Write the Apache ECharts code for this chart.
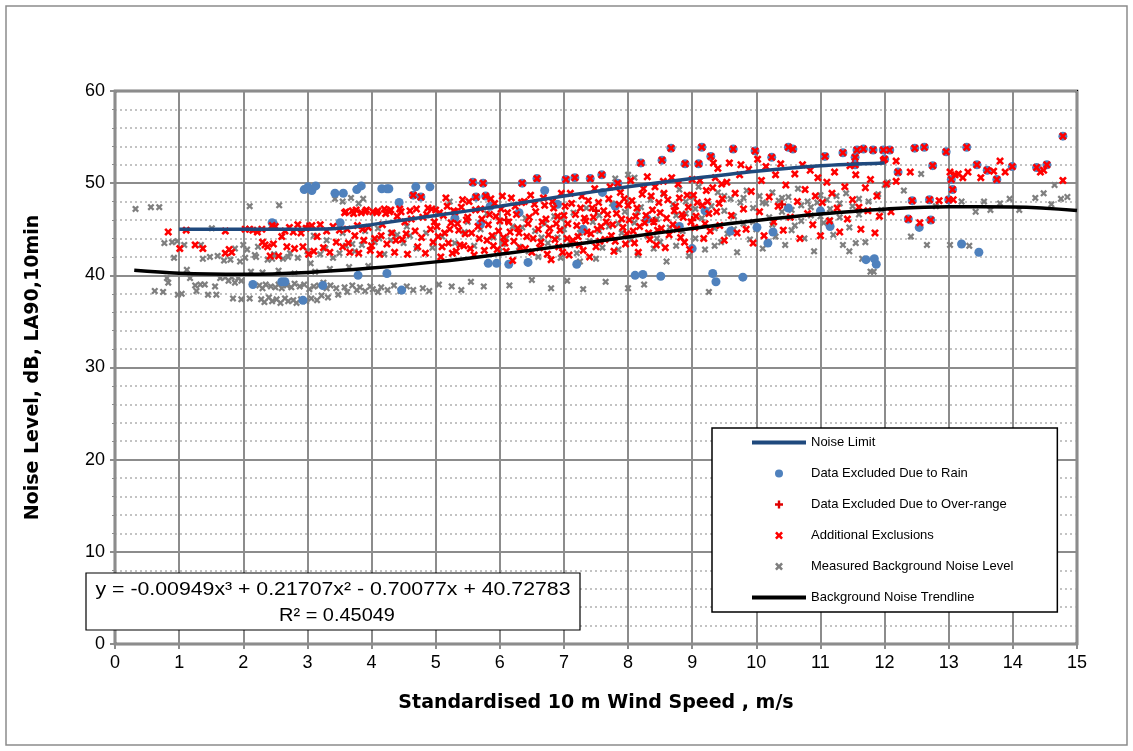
<!DOCTYPE html>
<html><head><meta charset="utf-8">
<script src="https://cdn.jsdelivr.net/npm/echarts@6/dist/echarts.min.js"></script>
<style>html,body{margin:0;padding:0;background:#fff}#c{width:1133px;height:751px}</style>
</head><body><div id="c"></div>
<script>
// ---------- DATA ----------
const xTicks = [0,1,2,3,4,5,6,7,8,9,10,11,12,13,14,15];
const yTicks = [0,10,20,30,40,50,60];

const noiseLimit = [[1,45.0],[2,45.0],[3,45.0],[3.5,45.1],[4,45.5],[5,46.5],[6,47.5],[7,48.6],[8,49.6],[9,50.5],[10,51.3],[11,51.9],[12,52.2]];

const trendline = [[0.3,40.54],[1,40.23],[2,40.12],[3,40.32],[4,40.79],[5,41.46],[6,42.29],[7,43.20],[8,44.16],[9,45.09],[10,45.94],[11,46.65],[12,47.18],[13,47.45],[14,47.42],[15,47.03]];

const background = [
[0.32,47.2],[0.56,47.4],[0.69,47.4],[0.62,38.3],[0.75,38.2],[0.77,43.5],[0.81,39.7],[0.83,39.2],[0.89,43.6],[0.92,41.9],[0.97,43.7],[0.98,37.9],[1.04,38.0],[1.08,43.3],[1.12,40.6],[1.17,39.7],[1.25,38.9],[1.27,38.3],[1.33,39.0],[1.34,43.3],[1.37,41.8],[1.40,39.0],[1.45,37.9],[1.48,42.0],[1.51,45.1],[1.56,38.8],[1.58,37.9],[1.60,42.1],[1.64,39.7],[1.70,41.6],[1.72,39.8],[1.77,39.4],[1.80,41.7],[1.82,39.8],[1.84,37.5],[1.87,39.2],[1.87,42.9],[1.92,39.7],[1.95,41.5],[1.97,39.4],[1.97,37.4],[2.0,43.3],[2.03,41.9],[2.06,42.8],[2.1,37.5],[2.1,47.5],[2.12,40.4],
[2.18,42.2],[2.23,43.1],[2.25,38.9],[2.28,37.4],[2.3,38.6],[2.33,37.1],[2.35,39.0],[2.38,41.7],[2.4,37.6],[2.43,38.8],[2.45,37.2],[2.48,42.3],[2.5,38.7],[2.52,37.4],[2.55,39.0],[2.56,47.6],[2.58,37.0],[2.6,38.6],[2.62,41.8],[2.65,37.5],[2.68,38.9],[2.7,37.2],[2.73,42.4],[2.75,38.7],[2.78,37.3],[2.8,39.1],[2.83,37.0],[2.85,41.9],[2.88,38.8],[2.9,37.4],[2.95,39.0],[2.98,37.2],[3.0,42.6],[3.03,38.5],[3.06,37.5],[3.1,38.8],[3.12,40.4],[3.15,37.3],[3.18,38.9],[3.2,42.3],[3.22,37.8],[3.25,39.2],[3.28,42.9],[3.3,38.6],[3.32,37.6],[3.36,38.9],[3.4,41.9],[3.43,48.3],[3.45,38.6],[3.48,37.9],[3.5,42.4],[3.55,48.0],[3.58,38.7],[3.6,43.2],[3.62,38.2],[3.68,48.4],[3.7,38.9],[3.74,42.6],[3.77,38.4],[3.8,47.8],[3.82,38.7],[3.85,43.3],[3.87,48.3],[3.9,38.3],[3.95,41.0],[3.98,38.8],
[2.3,40.3],[2.55,40.5],[2.8,40.2],[3.05,41.3],[3.35,40.7],[3.65,40.9],[2.2,42.0],[2.45,41.8],[2.7,42.0],[3.1,44.3],[3.3,43.8],[3.55,44.6],[3.7,43.4],[3.9,44.8],[4.1,45.1],[4.3,44.6],[4.55,45.3],
[4.02,38.5],[4.05,43.6],[4.1,38.2],[4.12,44.0],[4.15,38.7],[4.2,42.3],[4.25,38.4],[4.3,43.8],[4.35,38.9],[4.4,44.4],[4.45,38.3],[4.5,43.5],[4.55,38.8],[4.6,44.3],[4.65,38.4],[4.7,42.9],[4.8,38.6],[4.85,44.6],[4.9,38.3],[4.95,43.0],[5.05,39.0],[5.1,44.2],[5.22,48.0],[5.25,38.8],[5.3,43.5],[5.4,38.4],[5.45,44.7],[5.55,39.3],[5.6,43.2],[5.7,45.0],[5.75,38.8],[5.9,44.1],[6.0,42.6],
[6.1,44.0],[6.15,38.9],[6.2,45.3],[6.3,43.1],[6.4,46.2],[6.45,42.6],[6.5,39.5],[6.55,44.8],[6.6,42.0],[6.7,45.6],[6.75,43.5],[6.8,38.6],[6.85,46.4],[6.9,44.1],[6.95,41.9],[7.0,45.0],[7.05,39.4],[7.1,43.3],[7.15,46.8],[7.2,42.4],[7.25,44.6],[7.3,38.5],[7.35,47.3],[7.4,43.7],[7.45,45.8],[7.5,41.8],[7.55,46.5],[7.6,43.0],[7.65,39.3],[7.7,45.3],[7.75,47.8],[7.8,50.5],[7.85,42.8],[7.9,44.6],[7.95,46.9],[8.0,38.6],[8.0,50.9],[8.05,43.9],[8.1,50.6],[8.1,45.7],[8.15,42.2],[8.2,47.4],[8.25,39.0],[8.3,44.3],[8.35,48.2],[8.4,42.9],[8.45,46.1],[8.5,43.6],[8.55,48.8],[8.6,41.5],[8.65,45.2],[8.7,47.7],[8.75,43.2],[8.8,49.3],[8.85,44.8],[8.9,46.7],[8.95,42.1],[9.0,48.5],[9.05,44.0],[9.1,49.6],[9.15,46.2],[9.2,42.8],[9.26,38.2],[9.3,47.5],[9.35,45.1],[9.4,49.0],[9.45,43.6],[9.5,47.0],[9.55,44.5],[9.6,48.3],[9.65,46.4],[9.7,42.5],[9.75,47.9],[9.8,45.6],[9.85,49.2],[9.9,43.9],[9.95,47.3],
[10.0,45.0],[10.05,48.6],[10.1,42.9],[10.15,47.8],[10.2,46.3],[10.25,49.0],[10.3,44.2],[10.35,48.1],[10.4,46.9],[10.45,43.3],[10.5,48.5],[10.55,47.1],[10.6,45.4],[10.65,49.4],[10.7,47.6],[10.75,44.0],[10.8,48.0],[10.85,46.5],[10.9,42.6],[10.95,47.9],[11.0,48.7],[11.05,45.7],[11.1,48.2],[11.15,47.2],[11.2,44.4],[11.25,48.6],[11.3,47.8],[11.35,43.3],[11.4,48.9],[11.45,42.6],[11.5,47.5],[11.55,43.5],[11.6,48.3],[11.65,41.8],[11.7,43.6],[11.75,48.0],[11.78,40.4],[11.83,40.4],[11.9,48.8],[11.95,47.1],[12.0,49.8],[12.05,50.1],
[12.3,49.2],[12.41,44.2],[12.57,51.0],[12.66,43.3],[12.8,47.5],[13.02,43.3],[13.2,48.0],[13.32,43.2],[13.42,46.9],[13.55,48.0],[13.65,47.1],[13.8,47.8],[13.95,48.3],[14.1,47.1],[14.35,48.4],[14.48,48.9],[14.6,47.7],[14.75,48.3],[14.85,48.5],[14.65,49.8],
[5.5,45.8],[5.8,46.7],[6.05,43.4],[6.35,45.2],[6.65,44.1],[6.95,46.2],[7.25,41.5],[7.55,44.8],[7.85,45.6],[8.15,46.9],[8.45,44.0],[8.75,46.5],[9.05,47.2],[9.35,43.2],[9.65,45.0],[9.95,45.8],[10.25,45.5],[10.55,44.9],[10.85,47.4],[11.15,46.0],[11.45,45.2],[10.1,47.9],[10.4,48.4],[10.7,45.9],[11.0,46.4],[11.3,46.3],[11.6,46.6],[9.5,48.6],[9.8,48.4],[8.9,48.0]
];

const additional = [
[0.83,44.7],[1.01,42.9],[1.11,44.9],[1.25,43.3],[1.37,42.9],[1.72,44.8],[1.72,42.4],[1.78,42.8],[1.82,42.5],[2.03,45.0],[2.1,45.0],
[2.15,44.9],[2.22,44.7],[2.29,45.0],[2.3,43.6],[2.34,43.3],[2.38,43.1],[2.42,42.1],[2.45,45.4],[2.47,43.4],[2.5,45.3],[2.55,42.1],[2.6,44.2],[2.65,44.8],[2.68,43.1],[2.72,45.2],[2.78,44.7],[2.8,42.9],[2.85,45.5],[2.9,44.6],[2.93,43.1],[2.98,45.1],[3.02,42.3],[3.07,45.4],[3.1,42.6],[3.15,44.2],[3.2,45.5],[3.25,43.0],[3.3,44.8],[3.35,42.5],[3.4,45.3],[3.45,43.6],[3.5,44.9],
[3.55,43.1],[3.6,46.9],[3.62,45.0],[3.66,42.5],[3.7,47.0],[3.74,44.3],[3.78,45.4],[3.8,42.4],[3.84,46.8],[3.88,43.8],[3.92,47.1],[3.95,45.2],[3.98,42.7],[4.02,46.9],[4.05,44.0],[4.1,47.0],[4.13,42.3],[4.17,45.5],[4.2,47.2],[4.24,43.4],[4.28,46.9],[4.32,44.6],[4.36,42.5],[4.4,46.4],[4.44,47.2],[4.48,43.9],[4.52,45.8],[4.56,42.3],[4.6,47.0],[4.65,48.7],[4.68,44.8],[4.72,43.1],[4.77,48.5],[4.8,46.3],[4.84,42.4],[4.88,47.3],[4.92,45.0],[4.96,43.6],
[5.0,47.1],[5.04,44.2],[5.08,42.0],[5.12,46.5],[5.16,48.4],[5.2,43.5],[5.24,45.7],[5.28,47.0],[5.32,42.6],[5.36,44.9],[5.4,47.4],[5.44,43.2],[5.48,46.0],[5.52,48.0],[5.56,44.6],[5.58,50.1],[5.6,42.2],[5.63,48.5],[5.66,45.3],[5.7,47.2],[5.74,50.0],[5.78,48.6],[5.8,43.8],[5.84,46.6],[5.88,44.3],[5.92,47.8],[5.96,42.8],[6.0,45.9],[6.04,48.6],[6.08,43.5],[6.12,46.8],[6.16,44.7],[6.2,41.6],[6.24,47.5],[6.28,45.1],[6.32,43.0],[6.35,50.0],[6.38,48.0],[6.42,44.2],[6.46,46.3],[6.5,42.5],[6.54,47.7],[6.58,50.5],[6.6,45.0],[6.64,43.6],[6.68,48.4],[6.72,46.1],[6.76,44.4],[6.8,41.7],[6.84,47.3],[6.88,45.6],[6.92,43.1],[6.96,48.9],[7.0,46.5],
[7.03,50.4],[7.05,44.0],[7.08,42.2],[7.12,47.8],[7.17,50.6],[7.2,45.4],[7.24,43.3],[7.28,48.6],[7.32,46.2],[7.36,44.7],[7.4,42.0],[7.41,50.5],[7.44,47.3],[7.48,49.4],[7.52,45.0],[7.56,43.7],[7.59,50.9],[7.62,47.0],[7.66,45.8],[7.7,48.3],[7.74,44.3],[7.78,42.6],[7.82,46.7],[7.84,50.0],[7.88,49.0],[7.92,45.2],[7.96,43.4],[8.0,47.6],[8.04,50.3],[8.08,44.8],[8.12,46.4],[8.16,42.5],[8.2,52.2],[8.22,48.8],[8.26,45.7],[8.3,50.7],[8.34,43.9],[8.38,47.1],[8.42,49.6],[8.46,44.9],[8.5,46.8],[8.53,52.5],[8.55,50.2],[8.58,43.0],[8.62,48.2],[8.67,53.8],[8.7,45.5],[8.74,47.5],[8.78,49.9],[8.82,44.1],[8.86,46.3],[8.89,52.1],[8.92,48.7],[8.96,42.8],
[9.0,50.4],[9.04,45.2],[9.08,47.9],[9.1,52.1],[9.15,53.9],[9.18,44.0],[9.22,49.2],[9.26,46.7],[9.29,52.9],[9.33,52.2],[9.36,50.6],[9.4,51.6],[9.43,45.4],[9.47,48.3],[9.5,43.8],[9.54,50.1],[9.58,52.2],[9.61,46.5],[9.64,53.7],[9.67,48.9],[9.7,44.6],[9.74,50.9],[9.76,52.0],[9.8,47.2],[9.84,45.0],[9.88,51.5],[9.92,49.1],[9.95,43.5],[9.98,53.5],[10.02,52.6],[10.05,46.9],[10.08,50.3],[10.12,44.3],[10.15,51.8],[10.2,48.5],[10.24,52.8],[10.27,45.8],[10.3,50.9],[10.34,47.5],[10.38,52.1],[10.42,44.9],[10.46,49.8],[10.5,53.9],[10.53,46.3],[10.57,53.7],[10.6,51.0],[10.64,48.0],[10.68,44.0],[10.72,52.0],[10.76,49.3],[10.8,46.7],[10.84,51.4],[10.88,45.5],[10.92,48.6],[10.96,50.6],[11.0,44.3],[11.03,47.9],[11.07,52.9],[11.1,50.1],
[11.14,45.9],[11.18,48.9],[11.22,51.2],[11.26,47.3],[11.3,44.7],[11.35,53.3],[11.38,49.6],[11.42,46.1],[11.46,51.9],[11.5,48.2],[11.54,52.8],[11.54,52.0],[11.55,50.9],[11.57,53.6],[11.6,47.4],[11.63,45.0],[11.67,53.7],[11.7,49.5],[11.74,47.0],[11.78,50.4],[11.82,53.6],[11.85,44.6],[11.88,48.6],[11.92,46.4],[11.98,53.6],[11.98,52.5],[12.0,52.6],[12.03,49.9],[12.08,53.6],[12.1,46.9],[12.18,52.4],[12.18,50.2],[12.21,51.2],
[12.37,46.1],[12.4,51.2],[12.43,48.1],[12.47,53.8],[12.55,45.7],[12.62,53.9],[12.7,48.2],[12.72,46.0],[12.75,51.9],[12.85,48.1],[12.96,53.4],[13.0,48.2],[13.02,51.2],[13.04,50.4],[13.06,49.3],[13.07,48.2],[13.1,50.9],[13.15,51.0],[13.22,50.6],[13.28,53.9],[13.3,51.2],[13.44,52.0],[13.5,50.6],[13.6,51.4],[13.7,51.3],[13.75,50.4],[13.8,52.4],[13.88,51.2],[13.99,51.8],[14.37,51.7],[14.43,51.2],[14.48,51.4],[14.53,52.0],[14.78,55.1],[14.78,50.3],
[5.02,45.3],[5.06,46.8],[5.1,43.1],[5.14,44.6],[5.18,47.5],[5.22,45.0],[5.26,42.4],[5.3,46.9],[5.34,45.6],[5.38,43.3],[5.42,48.2],[5.46,44.5],[5.5,46.3],[5.54,42.9],[5.62,47.1],[5.68,44.0],[5.72,46.1],[5.76,42.7],[5.82,45.5],[5.86,48.3],[5.9,43.2],[5.94,46.4],[5.98,44.8],
[6.02,47.2],[6.06,44.1],[6.1,42.6],[6.14,45.8],[6.18,48.4],[6.22,43.7],[6.26,46.6],[6.3,44.6],[6.34,47.9],[6.4,42.9],[6.44,45.6],[6.48,48.7],[6.52,44.0],[6.56,46.9],[6.62,43.0],[6.66,45.8],[6.7,47.6],[6.74,42.3],[6.78,45.1],[6.82,48.0],[6.86,43.9],[6.9,46.4],[6.94,44.9],[6.98,42.5],
[7.02,47.5],[7.06,45.6],[7.1,48.9],[7.14,43.8],[7.18,46.6],[7.22,44.2],[7.26,47.3],[7.3,42.7],[7.34,45.9],[7.38,48.1],[7.42,44.5],[7.46,46.3],[7.5,43.1],[7.54,47.9],[7.58,45.3],[7.64,43.9],[7.68,46.6],[7.72,49.6],[7.76,45.5],[7.8,43.7],[7.86,47.7],[7.9,46.1],[7.94,48.3],[7.98,44.5],
[8.02,46.0],[8.06,48.1],[8.1,43.5],[8.14,47.3],[8.18,45.3],[8.24,49.4],[8.28,46.5],[8.32,44.6],[8.36,48.6],[8.4,45.8],[8.44,43.3],[8.48,47.9],[8.52,45.1],[8.56,48.9],[8.6,46.2],[8.64,44.4],[8.68,50.6],[8.72,47.0],[8.76,45.0],[8.8,48.4],[8.84,46.6],[8.88,43.6],[8.94,47.4],[8.98,45.8],[9.02,48.7],[9.06,46.4],[9.12,50.3],[9.16,47.6],[9.2,45.6],[9.24,48.0],[9.28,44.8],[9.32,49.5],[9.38,46.9],[9.42,47.8],[9.46,49.9],
[3.58,46.8],[3.64,43.5],[3.72,46.7],[3.76,47.1],[3.86,45.0],[3.9,46.9],[4.0,43.2],[4.08,46.8],[4.15,44.3],[4.22,46.7],[4.3,47.1],[4.38,43.8],[4.46,46.9],[4.54,44.5],[4.62,46.1],[4.7,47.2],[4.78,44.1],[4.86,46.6],[4.94,47.2],[4.98,45.8]
];

const rain = [
[2.15,39.0],[2.45,45.7],[2.47,45.6],[2.6,39.3],[2.65,39.3],[2.93,37.3],[2.95,49.3],[3.01,49.6],[3.07,49.2],[3.13,49.7],[3.24,38.9],[3.43,48.9],[3.51,45.7],[3.56,48.9],[3.77,49.3],[3.79,40.0],[3.84,49.7],[4.16,49.4],[4.24,49.4],[4.24,40.2],[4.27,49.4],[4.43,47.9],[4.47,38.4],[4.69,49.6],[4.91,49.6],[5.82,41.3],[5.85,47.5],[5.95,41.3],[6.14,41.2],[6.44,41.4],[7.2,41.2],[8.11,40.0],[8.23,40.1],[8.51,39.9],[9.0,42.9],[9.32,40.2],[9.37,39.3],[9.79,39.8],[10.01,45.2],[10.18,43.5],[10.26,44.7],[11.15,45.3],[11.71,41.7],[11.84,41.8],[11.87,41.2],[12.54,45.2],[13.2,43.4],[13.47,42.5],
[5.3,46.2],[5.7,45.6],[6.3,46.8],[6.9,47.7],[7.3,45.0],[7.8,47.5],[8.3,46.1],[8.8,45.3],[9.2,47.0],[9.6,44.8],[10.5,47.3],[11.0,47.0],[7.6,49.0],[6.7,49.2],
[4.65,48.7],[4.77,48.5],[5.58,50.1],[5.74,50.0],[5.63,48.5],[5.78,48.6],[6.35,50.0],[6.58,50.5],[7.03,50.4],[7.17,50.6],[7.41,50.5],[7.59,50.9],[7.84,50.0],[8.2,52.2],[8.53,52.5],[8.67,53.8],[8.89,52.1],[9.1,52.1],[9.15,53.9],[9.29,52.9],[9.64,53.7],[9.98,53.5],[10.24,52.8],[10.5,53.9],[10.57,53.7],[11.07,52.9],[11.35,53.3],[11.54,52.8],[11.54,52.0],[11.57,53.6],[11.67,53.7],[11.82,53.6],[11.98,53.6],[12.08,53.6],[12.0,52.6],[12.21,51.2],[12.43,48.1],[12.47,53.8],[12.62,53.9],[12.7,48.2],[12.75,51.9],[12.96,53.4],[13.0,48.2],[13.04,50.4],[13.06,49.3],[13.28,53.9],[13.44,52.0],[13.6,51.4],[13.75,50.4],[13.99,51.8],[14.37,51.7],[14.53,52.0],[14.78,55.1],[12.37,46.1],[12.72,46.0]
];

const overRange = [[3.0,45.3],[6.1,46.0],[7.5,47.0],[8.4,45.9],[9.0,46.0],[10.4,47.7]];

const equationText = 'y = -0.00949x³ + 0.21707x² - 0.70077x + 40.72783';
const r2Text = 'R² = 0.45049';

// ---------- CHART ----------
const X_SYM = 'path://M0,2.3 L2.3,0 L5,2.7 L7.7,0 L10,2.3 L7.3,5 L10,7.7 L7.7,10 L5,7.3 L2.3,10 L0,7.7 L2.7,5 Z';
const PLUS_SYM = 'path://M3.5,0 H6.5 V3.5 H10 V6.5 H6.5 V10 H3.5 V6.5 H0 V3.5 H3.5 Z';
const LINE_ICON = 'path://M0,0 H54 V4 H0 Z';
const FONT = 'Liberation Sans, Arial, sans-serif';

const chart = echarts.init(document.getElementById('c'), null, {renderer:'canvas'});
chart.setOption({
  animation:false,
  backgroundColor:'#fff',
  grid:{left:115,right:56,top:91,bottom:107,show:true,borderColor:'#000',borderWidth:2.5,backgroundColor:'transparent'},
  xAxis:{type:'value',min:xTicks[0],max:xTicks[xTicks.length-1],interval:1,
    name:'Standardised 10 m Wind Speed , m/s',nameLocation:'middle',nameGap:50,
    nameTextStyle:{fontFamily:'DejaVu Sans',fontWeight:'bold',fontSize:19,color:'#000'},
    axisLine:{show:true,lineStyle:{color:'#8c8c8c',width:2}},
    axisTick:{show:true,inside:false,length:5,lineStyle:{color:'#8c8c8c',width:2}},
    axisLabel:{fontFamily:FONT,fontSize:18,color:'#000',margin:10},
    splitLine:{show:true,lineStyle:{color:'#8c8c8c',width:2}}},
  yAxis:{type:'value',min:yTicks[0],max:yTicks[yTicks.length-1],interval:10,
    name:'Noise Level, dB, LA90,10min',nameLocation:'middle',nameGap:72,
    nameTextStyle:{fontFamily:'DejaVu Sans',fontWeight:'bold',fontSize:19,color:'#000'},
    axisLine:{show:true,lineStyle:{color:'#8c8c8c',width:2}},
    axisTick:{show:true,length:5,lineStyle:{color:'#8c8c8c',width:2}},
    minorTick:{show:true,splitNumber:5,length:3,lineStyle:{color:'#8c8c8c',width:1}},
    axisLabel:{fontFamily:FONT,fontSize:18,color:'#000',margin:10},
    splitLine:{show:true,lineStyle:{color:'#8c8c8c',width:2}},
    minorSplitLine:{show:true,lineStyle:{color:'#b0b0b0',width:1.5,type:[2,3]}}},
  legend:{
    data:[
      {name:'Noise Limit',icon:LINE_ICON},
      {name:'Data Excluded Due to Rain',icon:'circle'},
      {name:'Data Excluded Due to Over-range',icon:PLUS_SYM},
      {name:'Additional Exclusions',icon:X_SYM},
      {name:'Measured Background Noise Level',icon:X_SYM},
      {name:'Background Noise Trendline',icon:LINE_ICON}],
    orient:'vertical',left:712,top:428,
    padding:[8,44,8,40],itemGap:18,itemWidth:54,itemHeight:8,
    backgroundColor:'#fff',borderColor:'#000',borderWidth:1.5,borderRadius:0,
    textStyle:{fontFamily:FONT,fontSize:13,color:'#000'},selectedMode:false
  },
  graphic:[
    {type:'rect',shape:{x:6,y:6,width:1121,height:739},style:{fill:'none',stroke:'#8c8c8c',lineWidth:1.5},silent:true,z:-10},
    {type:'rect',shape:{x:86,y:573,width:494,height:57},style:{fill:'#fff',stroke:'#000',lineWidth:1.2},z:100},
    {type:'text',x:333,y:590,scaleX:1.12,style:{text:equationText,fontFamily:FONT,fontSize:19,fill:'#000',align:'center',verticalAlign:'middle'},z:101},
    {type:'text',x:337,y:616,scaleX:1.05,style:{text:r2Text,fontFamily:FONT,fontSize:19,fill:'#000',align:'center',verticalAlign:'middle'},z:101}
  ],
  series:[
    {name:'Measured Background Noise Level',type:'scatter',data:background,symbol:X_SYM,symbolSize:7,
     itemStyle:{color:'#7f7f7f',opacity:1},z:2},
    {name:'Data Excluded Due to Rain',type:'scatter',data:rain,symbol:'circle',symbolSize:9,
     itemStyle:{color:'#4f81bd',opacity:1},z:3},
    {name:'Data Excluded Due to Over-range',type:'scatter',data:overRange,symbol:PLUS_SYM,symbolSize:8,
     itemStyle:{color:'#e00000',opacity:1},z:4},
    {name:'Additional Exclusions',type:'scatter',data:additional,symbol:X_SYM,symbolSize:8,
     itemStyle:{color:'#ff0000',opacity:1},z:5},
    {name:'Noise Limit',type:'line',data:noiseLimit,symbol:'none',smooth:0.3,
     lineStyle:{color:'#1f497d',width:3.5},itemStyle:{color:'#1f497d'},z:6},
    {name:'Background Noise Trendline',type:'line',data:trendline,symbol:'none',smooth:0.4,
     lineStyle:{color:'#000',width:3.5},itemStyle:{color:'#000'},z:7}
  ]
});
</script></body></html>
